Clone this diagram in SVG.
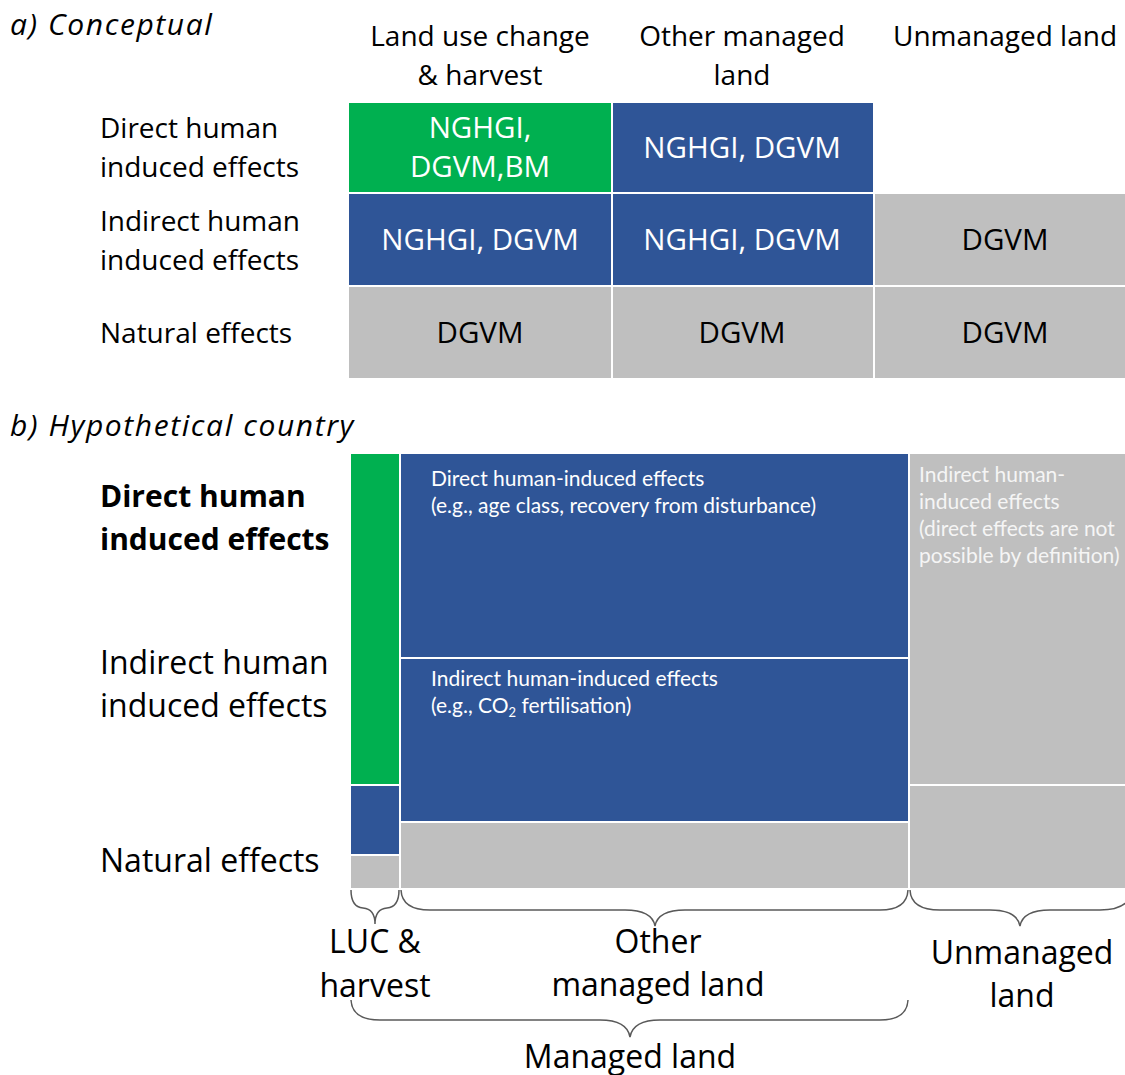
<svg xmlns="http://www.w3.org/2000/svg" width="1125" height="1075" viewBox="0 0 1125 1075">
  <style>
    .lbl { font-family: "Open Sans", "DejaVu Sans", sans-serif; font-size: 28px; fill: #000; }
    .big { font-family: "Open Sans", "DejaVu Sans", sans-serif; font-size: 32px; fill: #000; }
    .bold { font-size: 30px; font-weight: bold; }
    .ttl { font-family: "Open Sans", "DejaVu Sans", sans-serif; font-size: 30px; font-style: italic; letter-spacing: 1.6px; fill: #000; }
    .cellw { font-family: "Open Sans", "DejaVu Sans", sans-serif; font-size: 29.5px; fill: #fff; text-anchor: middle; }
    .cellk { font-family: "Open Sans", "DejaVu Sans", sans-serif; font-size: 29.5px; fill: #000; text-anchor: middle; }
    .note { font-family: Lato, "Open Sans", sans-serif; font-size: 21px; fill: #fff; }
    .noteg { font-family: Lato, "Open Sans", sans-serif; font-size: 21px; fill: #f5f5f5; }
    .mid { text-anchor: middle; }
    .green { fill: #00b050; }
    .blue { fill: #2f5597; }
    .grey { fill: #bfbfbf; }
    .brace { fill: none; stroke: #595959; stroke-width: 1.5; }
  </style>

  <!-- Panel a: conceptual table -->
  <g id="panel-a">
    <text class="ttl" x="10" y="35">a) Conceptual</text>

    <g id="a-headers">
      <text class="lbl mid" x="480" y="46">Land use change</text>
      <text class="lbl mid" x="480" y="85">&amp; harvest</text>
      <text class="lbl mid" x="742" y="46">Other managed</text>
      <text class="lbl mid" x="742" y="85">land</text>
      <text class="lbl mid" x="1005" y="46">Unmanaged land</text>
    </g>

    <g id="a-rows">
      <text class="lbl" x="100" y="138">Direct human</text>
      <text class="lbl" x="100" y="177">induced effects</text>
      <text class="lbl" x="100" y="231">Indirect human</text>
      <text class="lbl" x="100" y="270">induced effects</text>
      <text class="lbl" x="100" y="343">Natural effects</text>
    </g>

    <g id="a-luc-direct">
      <rect class="green" x="349" y="103" width="262" height="89"/>
      <text class="cellw" x="480" y="138">NGHGI,</text>
      <text class="cellw" x="480" y="177">DGVM,BM</text>
    </g>
    <g id="a-other-direct">
      <rect class="blue" x="613" y="103" width="260" height="89"/>
      <text class="cellw" x="742" y="158">NGHGI, DGVM</text>
    </g>
    <g id="a-luc-indirect">
      <rect class="blue" x="349" y="194" width="262" height="91"/>
      <text class="cellw" x="480" y="250">NGHGI, DGVM</text>
    </g>
    <g id="a-other-indirect">
      <rect class="blue" x="613" y="194" width="260" height="91"/>
      <text class="cellw" x="742" y="250">NGHGI, DGVM</text>
    </g>
    <g id="a-unman-indirect">
      <rect class="grey" x="875" y="194" width="250" height="91"/>
      <text class="cellk" x="1005" y="250">DGVM</text>
    </g>
    <g id="a-luc-natural">
      <rect class="grey" x="349" y="287" width="262" height="91"/>
      <text class="cellk" x="480" y="343">DGVM</text>
    </g>
    <g id="a-other-natural">
      <rect class="grey" x="613" y="287" width="260" height="91"/>
      <text class="cellk" x="742" y="343">DGVM</text>
    </g>
    <g id="a-unman-natural">
      <rect class="grey" x="875" y="287" width="250" height="91"/>
      <text class="cellk" x="1005" y="343">DGVM</text>
    </g>
  </g>

  <!-- Panel b: hypothetical country -->
  <g id="panel-b">
    <text class="ttl" x="10" y="436">b) Hypothetical country</text>

    <g id="b-rows">
      <text class="big bold" x="100" y="507">Direct human</text>
      <text class="big bold" x="100" y="550">induced effects</text>
      <text class="big" x="100" y="674">Indirect human</text>
      <text class="big" x="100" y="717">induced effects</text>
      <text class="big" x="100" y="872">Natural effects</text>
    </g>

    <g id="b-luc">
      <rect class="green" x="351" y="454" width="48" height="330"/>
      <rect class="blue" x="351" y="786" width="48" height="68"/>
      <rect class="grey" x="351" y="856" width="48" height="32"/>
    </g>

    <g id="b-other-direct">
      <rect class="blue" x="401" y="454" width="507" height="203"/>
      <text class="note" x="431" y="486">Direct human-induced effects</text>
      <text class="note" x="431" y="513">(e.g., age class, recovery from disturbance)</text>
    </g>
    <g id="b-other-indirect">
      <rect class="blue" x="401" y="659" width="507" height="162"/>
      <text class="note" x="431" y="686">Indirect human-induced effects</text>
      <text class="note" x="431" y="713">(e.g., CO<tspan font-size="13" dy="4">2</tspan><tspan dy="-4"> fertilisation)</tspan></text>
    </g>
    <g id="b-other-natural">
      <rect class="grey" x="401" y="823" width="507" height="65"/>
    </g>

    <g id="b-unmanaged">
      <rect class="grey" x="910" y="454" width="215" height="330"/>
      <rect class="grey" x="910" y="786" width="215" height="102"/>
      <text class="noteg" x="919" y="482">Indirect human-</text>
      <text class="noteg" x="919" y="509">induced effects</text>
      <text class="noteg" x="919" y="536">(direct effects are not</text>
      <text class="noteg" x="919" y="563">possible by definition)</text>
    </g>

    <!-- braces under the columns -->
    <g id="braces">
      <path class="brace" d="M351,890 Q351,907 363,908 Q375,909 375,924 Q375,909 387,908 Q399,907 399,890"/>
      <path class="brace" d="M401,890 Q402,910 430,910 L625,910 Q652,910 655,926 Q658,910 685,910 L880,910 Q907,910 908,890"/>
      <path class="brace" d="M910,890 Q911,910 940,910 L990,910 Q1017,910 1020,926 Q1023,910 1050,910 L1100,910 Q1130,910 1132,890"/>
      <path class="brace" d="M351,1000 Q352,1020 380,1020 L600,1020 Q627,1020 630,1037 Q633,1020 660,1020 L880,1020 Q907,1020 908,1000"/>
    </g>

    <g id="b-columns">
      <text class="big mid" x="375" y="953">LUC &amp;</text>
      <text class="big mid" x="375" y="997">harvest</text>
      <text class="big mid" x="658" y="953">Other</text>
      <text class="big mid" x="658" y="996">managed land</text>
      <text class="big mid" x="1022" y="964">Unmanaged</text>
      <text class="big mid" x="1022" y="1007">land</text>
      <text class="big mid" x="630" y="1068">Managed land</text>
    </g>
  </g>
</svg>
